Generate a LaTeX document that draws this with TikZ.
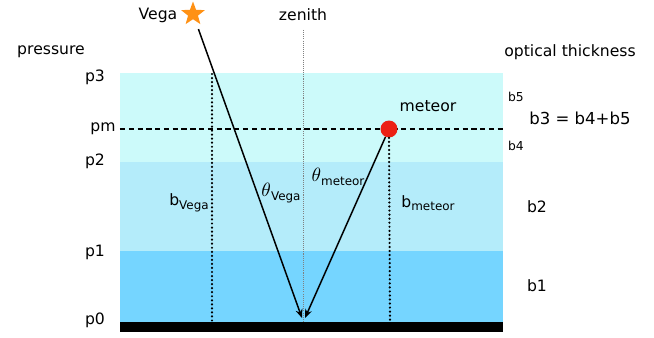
\documentclass[tikz,border=0pt]{standalone}
\usepackage{fontspec}
\setmainfont{DejaVu Sans}
\usetikzlibrary{arrows.meta,positioning,shapes.geometric}
\definecolor{upperlayer}{RGB}{204,250,250}
\definecolor{middlelayer}{RGB}{180,236,250}
\definecolor{lowerlayer}{RGB}{117,213,255}
\definecolor{vegaorange}{RGB}{255,145,20}
\definecolor{meteorred}{RGB}{236,32,20}
\newcommand{\lowsub}[1]{\raisebox{-0.4ex}{\fontsize{6.8}{7}\selectfont #1}}
\newcommand{\bigtheta}{{\fontsize{10.5}{11}\selectfont$\theta$}}
\tikzset{
  lbl/.style={font=\fontsize{8.9}{10}\selectfont,inner sep=1pt},
  tiny/.style={font=\fontsize{7}{8}\selectfont,inner sep=1pt},
  ray/.style={-{Stealth[length=5pt,width=4pt]},line width=0.85pt},
  column/.style={line width=1.4pt,line cap=round,dash pattern=on 0pt off 2.3pt},
  level/.style={line width=1.1pt,dash pattern=on 3pt off 2pt},
}
\begin{document}
\begin{tikzpicture}[x=0.02cm,y=-0.02cm]
  \useasboundingbox (0,0) rectangle (654,338);
  % layers of the atmosphere
  \fill[upperlayer] (120,73) rectangle (503,162);
  \fill[middlelayer] (120,162) rectangle (503,251);
  \fill[lowerlayer] (120,251) rectangle (503,322);
  \fill[black] (120,322) rectangle (503,332);

  % pressure levels
  \node[lbl] (p3) at (95,77){p3};
  \node[lbl] (pm) at (103,129){pm};
  \node[lbl] (p2) at (95,161){p2};
  \node[lbl] (p1) at (95,252){p1};
  \node[lbl] (p0) at (95,320){p0};
  \node[lbl] (pressure) at (51,52){pressure};
  \node[lbl] (optical) at (570,52){optical thickness};

  % optical thickness
  \node[tiny] (b5) at (516,97){b5};
  \node[tiny] (b4) at (516,146){b4};
  \node[lbl,font=\fontsize{9.4}{11}\selectfont] (b3) at (580,118){b3 = b4+b5};
  \node[lbl] (b2) at (537,207){b2};
  \node[lbl] (b1) at (537,286){b1};

  % zenith
  \node[lbl] (zenith) at (303,15){zenith};
  \coordinate (zenithtop) at (303,30);
  \coordinate (zenithfoot) at (303,321);
  \draw[gray,line width=0.55pt,dash pattern=on 0.6pt off 0.6pt] (zenithtop) -- (zenithfoot);

  % meteor level
  \coordinate (levelleft) at (120,129);
  \coordinate (levelright) at (503,129);
  \draw[level] (levelleft) -- (levelright);

  % Vega
  \node[star,star points=5,star point ratio=2.4,fill=vegaorange,inner sep=0pt,minimum size=0.5cm] (star) at (193,14){};
  \node[lbl] (vega) at (158,15){Vega};
  \coordinate (vegatop) at (212,74);
  \coordinate (vegabase) at (212,321);
  \draw[column] (vegatop) -- (vegabase);
  \coordinate (vegafoot) at (302,318);
  \draw[ray,shorten <=0.32cm] (star.center) -- (vegafoot);

  % meteor
  \node[circle,fill=meteorred,inner sep=0pt,minimum size=0.34cm] (meteor) at (389,129){};
  \node[lbl] (meteorlbl) at (428,106){meteor};
  \coordinate (meteorbase) at (390,321);
  \draw[column] (meteor.south) -- (meteorbase);
  \coordinate (meteorfoot) at (305,318);
  \draw[ray] (meteor) -- (meteorfoot);

  % angles and columns
  \node[lbl] (bvega) at (189,203){b\lowsub{Vega}};
  \node[lbl] (thetavega) at (281,193){\bigtheta\lowsub{Vega}};
  \node[lbl] (thetameteor) at (338,177){\bigtheta\lowsub{meteor}};
  \node[lbl] (bmeteor) at (428,203){b\lowsub{meteor}};
\end{tikzpicture}
\end{document}
